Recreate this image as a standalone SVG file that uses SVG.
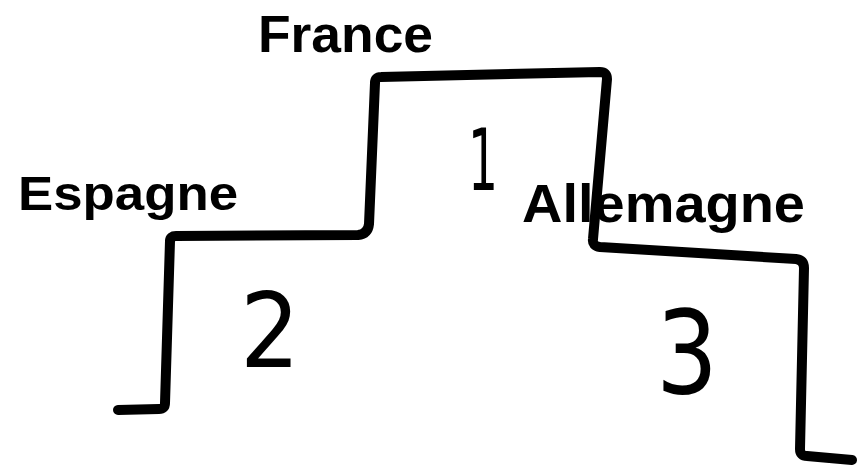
<svg xmlns="http://www.w3.org/2000/svg" width="868" height="465" viewBox="0 0 868 465">
<style>
.ink{fill:none;stroke:#000;stroke-width:10;stroke-linecap:round;stroke-linejoin:round}
.lbl{font-family:"Liberation Sans",Arial,sans-serif;font-weight:bold;fill:#000}
.num{font-family:"DejaVu Sans","Liberation Sans",sans-serif;fill:#000}
</style>
<rect width="868" height="465" fill="#fff"/>
<g id="podium">
<path class="ink" d="M118,410 L159,409 Q165,409 165,403 L170,241 Q170,236 176,236 L358,235 Q368,234 369,224 L375,83 Q375,77 381,77 L600,72 Q607,72 607,79 L593,239 Q592,246 600,247 L796,259 Q804,260 804,268 L800,449 Q800,456 807,456 L852,460"/>
</g>
<g id="place1"><text class="num" x="483" y="190" font-size="86" text-anchor="middle" textLength="30" lengthAdjust="spacingAndGlyphs">1</text></g>
<g id="place2"><text class="num" x="270" y="367" font-size="103" text-anchor="middle" textLength="60" lengthAdjust="spacingAndGlyphs">2</text></g>
<g id="place3"><text class="num" x="687" y="393" font-size="115" text-anchor="middle" textLength="62" lengthAdjust="spacingAndGlyphs">3</text></g>
<g id="france"><text class="lbl" x="258" y="52" font-size="52" textLength="175" lengthAdjust="spacingAndGlyphs">France</text></g>
<g id="espagne"><text class="lbl" x="18" y="210" font-size="49" textLength="220" lengthAdjust="spacingAndGlyphs">Espagne</text></g>
<g id="allemagne"><text class="lbl" x="522" y="222" font-size="53" textLength="283" lengthAdjust="spacingAndGlyphs">Allemagne</text></g>
</svg>
